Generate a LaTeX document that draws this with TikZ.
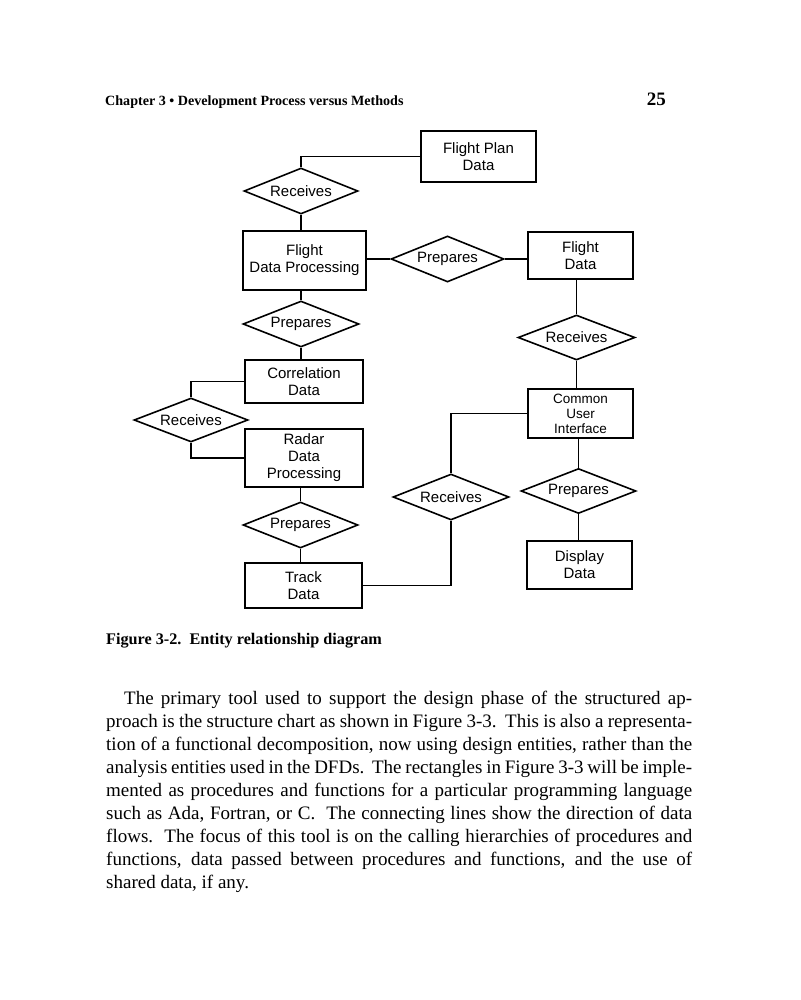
\documentclass[tikz,border=0pt]{standalone}
\usepackage{fontspec}
\setmainfont{Liberation Serif}
\newfontfamily\dsans{Liberation Sans}
\usetikzlibrary{shapes.geometric}
\begin{document}
\begin{tikzpicture}[x=1pt,y=-1pt,
 ent/.style={draw, line width=1.6pt, rectangle, inner sep=0pt, align=center, font=\dsans\fontsize{15}{17}\selectfont},
 rel/.style={draw, line width=1.6pt, diamond, aspect=2.5, inner sep=0pt, font=\dsans\fontsize{15}{17}\selectfont},
 conn/.style={line width=1.6pt},
 bodyline/.style={anchor=base west, inner sep=0pt, font=\fontsize{19}{23}\selectfont},
 head/.style={anchor=base west, inner sep=0pt, font=\bfseries\fontsize{14.1}{17}\selectfont}]
\useasboundingbox[fill=white] (0,0) rectangle (800,1000);

% header
\node[head] (hdr) at (105,106) {Chapter 3 \textbullet{} Development Process versus Methods};
\node[anchor=base east, inner sep=0pt, font=\bfseries\fontsize{19}{20}\selectfont] (pg) at (666,106) {25};

% entities
\node[ent, minimum width=115pt, minimum height=51pt] (FPD) at (478.5,156.5) {Flight Plan\\Data};
\node[ent, minimum width=123pt, minimum height=59pt] (FDP) at (304.5,260.5) {Flight\\Data Processing};
\node[ent, minimum width=105pt, minimum height=47pt] (FD) at (580.5,255.5) {Flight\\Data};
\node[ent, minimum width=105pt, minimum height=49pt, font=\dsans\fontsize{13.5}{15}\selectfont] (CUI) at (580.5,413.5) {Common\\User\\Interface};
\node[ent, minimum width=118pt, minimum height=43pt] (CD) at (304,381.5) {Correlation\\Data};
\node[ent, minimum width=118pt, minimum height=58pt] (RDP) at (304,458) {Radar\\Data\\Processing};
\node[ent, minimum width=117pt, minimum height=45pt] (TD) at (303.5,585.5) {Track\\Data};
\node[ent, minimum width=105pt, minimum height=48pt] (DD) at (579.5,565) {Display\\Data};

% relationships
\node[rel, minimum width=114pt, minimum height=46pt] (RecA) at (301,191) {Receives};
\node[rel, minimum width=113pt, minimum height=46pt] (PrepA) at (447.5,259) {Prepares};
\node[rel, minimum width=117pt, minimum height=45pt] (RecB) at (576.5,337.5) {Receives};
\node[rel, minimum width=116pt, minimum height=46pt] (PrepB) at (301,324) {Prepares};
\node[rel, minimum width=114pt, minimum height=44pt] (RecC) at (191,420) {Receives};
\node[rel, minimum width=115pt, minimum height=46pt] (PrepC) at (300.5,525) {Prepares};
\node[rel, minimum width=116pt, minimum height=46pt] (RecD) at (451,497) {Receives};
\node[rel, minimum width=115pt, minimum height=45pt] (PrepD) at (578.5,491) {Prepares};

% connectors
\draw[conn] (RecA.north) |- (FPD.west);
\draw[conn] (RecA.south) -- (RecA.south |- FDP.north);
\draw[conn] (FDP.east |- PrepA.west) -- (PrepA.west);
\draw[conn] (PrepA.east) -- (PrepA.east -| FD.west);
\draw[conn] (RecB.north |- FD.south) -- (RecB.north);
\draw[conn] (RecB.south) -- (RecB.south |- CUI.north);
\draw[conn] (PrepD.north |- CUI.south) -- (PrepD.north);
\draw[conn] (PrepD.south) -- (PrepD.south |- DD.north);
\draw[conn] (CUI.west) -| (RecD.north);
\draw[conn] (RecD.south) |- (TD.east);
\draw[conn] (PrepB.north |- FDP.south) -- (PrepB.north);
\draw[conn] (PrepB.south) -- (PrepB.south |- CD.north);
\draw[conn] (CD.west) -| (RecC.north);
\draw[conn] (RecC.south) |- (RDP.west);
\draw[conn] (PrepC.north |- RDP.south) -- (PrepC.north);
\draw[conn] (PrepC.south) -- (PrepC.south |- TD.north);

% caption
\node[anchor=base west, inner sep=0pt, font=\bfseries\fontsize{16.2}{18}\selectfont] (cap) at (106,644) {Figure 3-2.\ \ Entity relationship diagram};

% body text
\node[bodyline] (l1) at (106,704) {\makebox[586pt][s]{\hspace*{18pt}The primary tool used to support the design phase of the structured ap-}};
\node[bodyline] (l2) at (106,727) {\makebox[586pt][s]{proach is the structure chart as shown in Figure 3-3.\ \ This is also a representa-}};
\node[bodyline] (l3) at (106,750) {\makebox[586pt][s]{tion of a functional decomposition, now using design entities, rather than the}};
\node[bodyline] (l4) at (106,773) {\makebox[586pt][s]{analysis entities used in the DFDs.\ \ The rectangles in Figure 3-3 will be imple-}};
\node[bodyline] (l5) at (106,796) {\makebox[586pt][s]{mented as procedures and functions for a particular programming language}};
\node[bodyline] (l6) at (106,819) {\makebox[586pt][s]{such as Ada, Fortran, or C.\ \ The connecting lines show the direction of data}};
\node[bodyline] (l7) at (106,842) {\makebox[586pt][s]{flows.\ \ The focus of this tool is on the calling hierarchies of procedures and}};
\node[bodyline] (l8) at (106,865) {\makebox[586pt][s]{functions, data passed between procedures and functions, and the use of}};
\node[bodyline] (l9) at (106,888) {shared data, if any.};
\end{tikzpicture}
\end{document}
